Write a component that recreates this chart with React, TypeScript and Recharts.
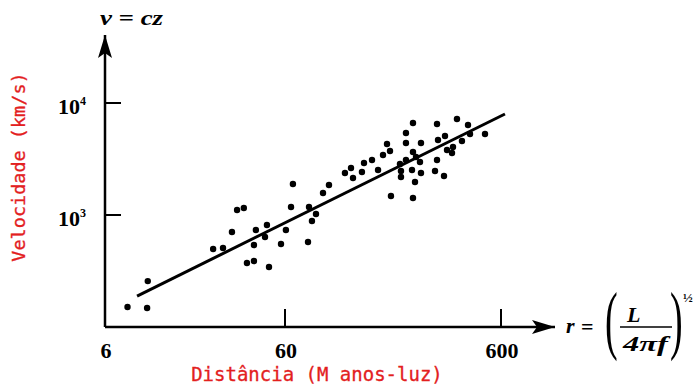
import React from 'react';
import { ScatterChart, Scatter, XAxis, YAxis, ReferenceLine, ReferenceDot, Customized } from 'recharts';

// Distance (M anos-luz) and velocity (km/s) of each galaxy
const DISTANCE = [11.2, 13.8, 13.9, 27.9, 31.0, 34.1, 36.0, 38.7, 40.0, 43.1, 43.1, 44.0, 48.5, 49.5, 50.6, 57.5, 60.6, 64.0, 65.3, 76.7, 77.5, 80.0, 83.5, 90.0, 95.9, 113.7, 121.3, 123.9, 136.3, 139.3, 151.7, 161.8, 170.6, 178.0, 183.8, 185.7, 206.6, 206.6, 217.9, 217.9, 217.9, 232.4, 234.8, 239.9, 234.8, 255.7, 234.8, 253.0, 255.7, 297.0, 303.4, 303.4, 306.6, 326.8, 330.3, 337.4, 355.9, 359.7, 375.3, 395.8, 422.1, 431.3, 506.0, 242.5, 204.4];
const VELOCITY = [151, 148, 257, 497, 507, 705, 1108, 1155, 373, 388, 540, 735, 636, 814, 343, 551, 735, 1179, 1891, 574, 1179, 884, 1021, 1572, 1853, 2371, 2627, 2140, 2421, 2913, 3098, 2522, 3433, 4305, 3728, 1478, 2471, 2184, 4394, 5397, 3098, 2522, 3651, 1971, 1418, 4394, 6627, 2973, 2371, 2471, 3098, 6494, 4673, 2230, 5074, 3805, 3577, 4048, 7197, 4579, 6362, 5287, 5287, 3296, 2853];

// Fitted line endpoints
const FIT_X = [12.4, 626];
const FIT_Y = [189, 7980];

const X_DOMAIN = [8.81, 1067];
const Y_DOMAIN = [100, 40480];
const X_TICK_VALUES = [8.81, 60, 600];
const X_TICK_LABELS = ['6', '60', '600'];
const Y_TICK_VALUES = [1000, 10000];
const Y_TICK_EXP = ['3', '4'];

const data = DISTANCE.map((d, i) => ({ x: d, y: VELOCITY[i] }));

const SERIF = '"Liberation Serif", "DejaVu Serif", serif';
const MONO = '"DejaVu Sans Mono", "Liberation Mono", monospace';
const RED = '#e3201e';

const XTick = (props: any) => {
  const { x, y, index } = props;
  return (
    <g>
      {index > 0 && <line x1={x} x2={x} y1={y} y2={y - 18} stroke="#000" strokeWidth={2} />}
      <text x={x + 1} y={y + 31} textAnchor="middle" fontFamily={SERIF} fontWeight="bold" fontSize={22} fill="#000">
        {X_TICK_LABELS[index]}
      </text>
    </g>
  );
};

const YTick = (props: any) => {
  const { x, y, index } = props;
  return (
    <g>
      <line x1={x} x2={x + 16} y1={y} y2={y} stroke="#000" strokeWidth={2} />
      <text x={x - 47} y={y + 11} fontFamily={SERIF} fontWeight="bold" fontSize={22} fill="#000">
        10
        <tspan dy={-9} fontSize={12}>{Y_TICK_EXP[index]}</tspan>
      </text>
    </g>
  );
};

const UpArrow = (props: any) => {
  const { cx, cy } = props;
  return (
    <polygon
      points={`${cx},${cy} ${cx - 7},${cy + 23} ${cx},${cy + 18} ${cx + 7},${cy + 23}`}
      fill="#000"
    />
  );
};

const RightArrow = (props: any) => {
  const { cx, cy } = props;
  return (
    <polygon
      points={`${cx},${cy} ${cx - 23},${cy - 7} ${cx - 18},${cy} ${cx - 23},${cy + 7}`}
      fill="#000"
    />
  );
};

const Dot = (props: any) => <circle cx={props.cx} cy={props.cy} r={3.2} fill="#000" />;

const Overlay = () => (
  <g>
    <text x={100} y={25} fontFamily={SERIF} fontStyle="italic" fontWeight="bold" fontSize={22} textLength={63} lengthAdjust="spacingAndGlyphs" fill="#000">
      v = cz
    </text>
    <text
      transform="translate(25,167) rotate(-90)"
      textAnchor="middle"
      fontFamily={MONO}
      fontSize={18.5}
      fill={RED}
      stroke={RED}
      strokeWidth={0.3}
    >
      Velocidade (km/s)
    </text>
    <text x={317} y={381} textAnchor="middle" fontFamily={MONO} fontSize={19} fill={RED} stroke={RED} strokeWidth={0.3}>
      Distância (M anos-luz)
    </text>
    <text x={566} y={333} fontFamily={SERIF} fontStyle="italic" fontWeight="bold" fontSize={22} fill="#000">r</text>
    <text x={581} y={334} fontFamily={SERIF} fontWeight="bold" fontSize={22} fill="#000">=</text>
    <text transform="translate(605,345) scale(0.5,1)" fontFamily={SERIF} fontSize={76} fill="#000">(</text>
    <text x={627} y={322} fontFamily={SERIF} fontStyle="italic" fontWeight="bold" fontSize={22} fill="#000">L</text>
    <line x1={620} x2={672} y1={327} y2={327} stroke="#000" strokeWidth={1.5} />
    <text x={623} y={351} fontFamily={SERIF} fontStyle="italic" fontWeight="bold" fontSize={21} textLength={45} lengthAdjust="spacingAndGlyphs" fill="#000">4πf</text>
    <text transform="translate(670,345) scale(0.5,1)" fontFamily={SERIF} fontSize={76} fill="#000">)</text>
    <text x={683} y={302} fontFamily={SERIF} fontWeight="bold" fontSize={13} fill="#000">½</text>
  </g>
);

export default function App() {
  return (
    <div style={{ position: 'absolute', left: 0, top: 0, width: 693, height: 391, background: '#fff' }}>
      <ScatterChart width={693} height={391} margin={{ top: 35, right: 138, bottom: 24, left: 45 }}>
        <XAxis
          type="number"
          dataKey="x"
          scale="log"
          domain={X_DOMAIN}
          ticks={X_TICK_VALUES}
          interval={0}
          allowDataOverflow
          height={40}
          tickSize={0}
          tickMargin={0}
          tickLine={false}
          axisLine={{ stroke: '#000', strokeWidth: 2.5 }}
          tick={<XTick />}
        />
        <YAxis
          type="number"
          dataKey="y"
          scale="log"
          domain={Y_DOMAIN}
          ticks={Y_TICK_VALUES}
          interval={0}
          allowDataOverflow
          width={60}
          tickSize={0}
          tickMargin={0}
          tickLine={false}
          axisLine={{ stroke: '#000', strokeWidth: 2.5 }}
          tick={<YTick />}
        />
        <ReferenceLine
          segment={[{ x: FIT_X[0], y: FIT_Y[0] }, { x: FIT_X[1], y: FIT_Y[1] }]}
          stroke="#000"
          strokeWidth={3}
          ifOverflow="visible"
        />
        <Scatter data={data} isAnimationActive={false} shape={<Dot />} />
        <ReferenceDot x={X_DOMAIN[0]} y={Y_DOMAIN[1]} ifOverflow="visible" shape={<UpArrow />} />
        <ReferenceDot x={X_DOMAIN[1]} y={Y_DOMAIN[0]} ifOverflow="visible" shape={<RightArrow />} />
        <Customized component={<Overlay />} />
      </ScatterChart>
    </div>
  );
}
